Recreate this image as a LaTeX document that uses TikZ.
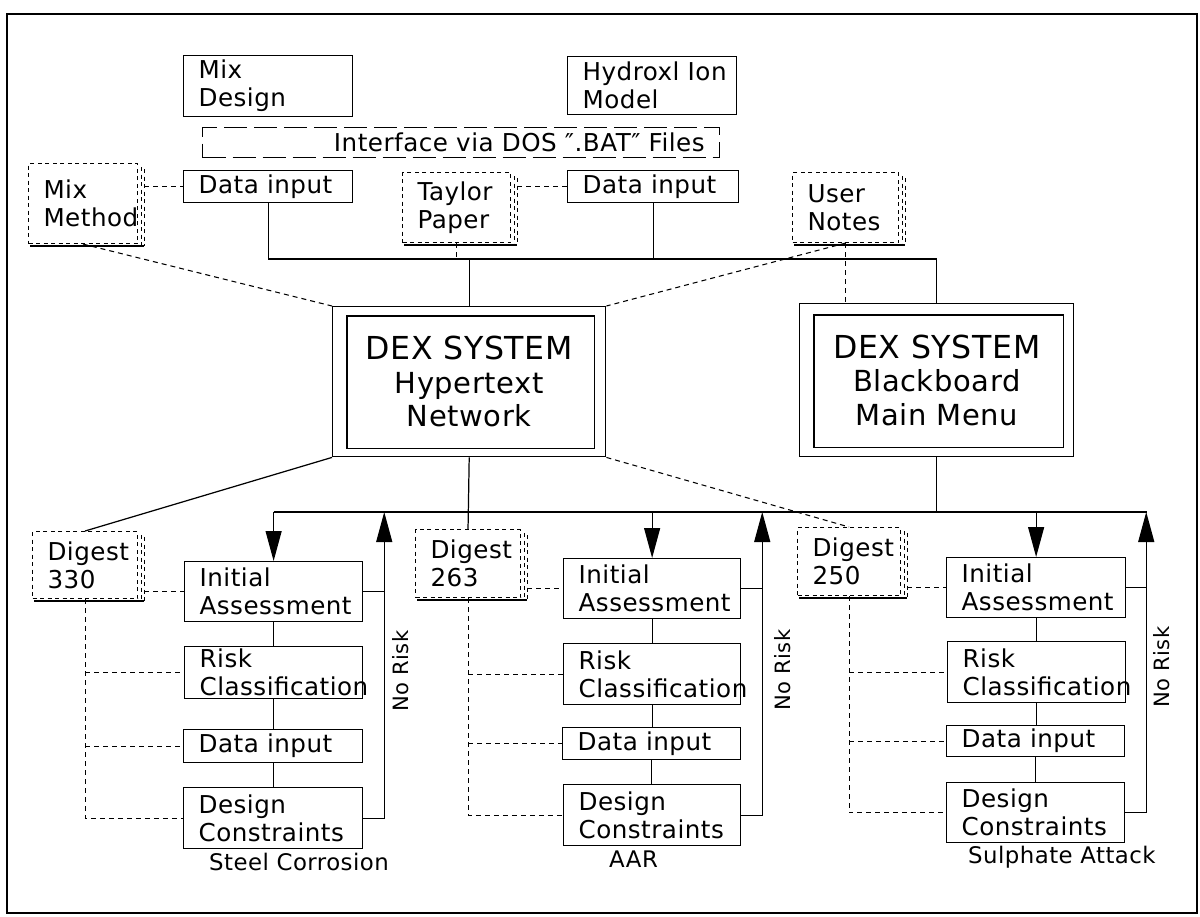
\documentclass[tikz,border=0pt]{standalone}
\usepackage{fontspec}
\setmainfont{DejaVu Sans}[LetterSpace=2]
\usetikzlibrary{arrows.meta,decorations.pathmorphing}
\hyphenpenalty=10000

\tikzset{
  box/.style 2 args={draw, line width=0.7pt, anchor=north west, align=left,
    inner xsep=3mm, inner ysep=0pt, text width=#1, minimum height=#2,
    font=\fontsize{14}{16}\selectfont},
  bigbox/.style={draw, line width=0.8pt, anchor=north west, align=center,
    inner sep=0pt, font=\fontsize{16.5}{19}\selectfont},
  notebox/.style={dash pattern=on 0.8mm off 0.7mm, line width=0.6pt},
  link/.style={dash pattern=on 1mm off 0.8mm, line width=0.6pt},
  wire/.style={line width=0.7pt},
  flowarrow/.style={wire, -{Triangle[width=3.2mm,length=6mm]}},
  caption/.style={anchor=base west, font=\fontsize{13}{15}\selectfont},
  riskmark/.style={rotate=90, font=\fontsize{12}{14}\selectfont},
}
\newcommand\dexhead{{\fontsize{18}{19}\selectfont DEX SYSTEM}}

\begin{document}
\begin{tikzpicture}[x=0.2mm, y=-0.2mm]
			%%%%% FRAME %%%%%
			\useasboundingbox (0,0) rectangle (1200,916);
			\draw[line width=1.2pt] (7,14) rectangle (1197,913);
			
			%%%%% MODELS AND DATA INPUT %%%%%
			\node[box={27.8mm}{12.2mm}] (mixdesign) at (183,55) {Mix\\Design};
			\node[box={27.8mm}{11.6mm}] (hydroxl) at (567,56) {Hydroxl~Ion\\Model};
			\node[box={97.4mm}{6mm}, align=right, dash pattern=on 4.6mm off 1.4mm] (iface) at (202,127) {Interface via DOS ″.BAT″ Files};
			\node[box={27.8mm}{6.4mm}] (datain1) at (183,170) {Data~input};
			\node[box={28.2mm}{6.4mm}] (datain2) at (567,170) {Data~input};
			
			\node[box={15.8mm}{16mm}, notebox] (mixmethod) at (28,163) {Mix\\Method};
			\node[box={15.6mm}{14mm}, notebox] (taylor) at (402,172) {Taylor\\Paper};
			\node[box={15.2mm}{14mm}, notebox] (usernotes) at (792,172) {User\\Notes};
			
			%%%%% DEX SYSTEM %%%%%
			\node[bigbox, minimum width=54.6mm, minimum height=30mm] (hyper) at (332,306) {\dexhead\\Hypertext\\Network};
			\draw[wire] ([shift={(15,10)}]hyper.north west) rectangle ([shift={(-12,-9)}]hyper.south east);
			\node[bigbox, minimum width=54.8mm, minimum height=30.6mm] (board) at (799,303) {\dexhead\\Blackboard\\Main Menu};
			\draw[wire] ([shift={(15,12)}]board.north west) rectangle ([shift={(-11,-10)}]board.south east);
			
			%%%%% DIGESTS %%%%%
			\node[box={15mm}{13.4mm}, notebox] (dig330) at (32,531) {Digest\\330};
			\node[box={15mm}{13.6mm}, notebox] (dig263) at (415,529) {Digest\\263};
			\node[box={14.6mm}{13.6mm}, notebox] (dig250) at (797,527) {Digest\\250};
			
			%%%%% STEEL CORROSION %%%%%
			\node[box={29.6mm}{12mm}] (ia1) at (184,561) {Initial\\Assessment};
			\node[box={29.6mm}{10.4mm}] (rc1) at (184,646) {Risk\\Classification};
			\node[box={29.8mm}{6.6mm}] (di1) at (183,729) {Data~input};
			\node[box={29.8mm}{12.2mm}] (dc1) at (183,787) {Design\\Constraints};
			\node[caption] (steel) at (203,870) {Steel Corrosion};
			\node[riskmark] (norisk1) at (401,671) {No Risk};
			
			%%%%% AAR %%%%%
			\node[box={29.4mm}{12mm}] (ia2) at (563,558) {Initial\\Assessment};
			\node[box={29.4mm}{12.2mm}] (rc2) at (563,643) {Risk\\Classification};
			\node[box={29.6mm}{6.4mm}] (di2) at (562,727) {Data~input};
			\node[box={29.4mm}{12.2mm}] (dc2) at (563,784) {Design\\Constraints};
			\node[caption] (aar) at (603,867) {AAR};
			\node[riskmark] (norisk2) at (783,670) {No Risk};
			
			%%%%% SULPHATE ATTACK %%%%%
			\node[box={29.8mm}{12mm}] (ia3) at (946,557) {Initial\\Assessment};
			\node[box={29.6mm}{12.2mm}] (rc3) at (947,641) {Risk\\Classification};
			\node[box={29.6mm}{6.2mm}] (di3) at (946,725) {Data~input};
			\node[box={29.6mm}{12mm}] (dc3) at (946,782) {Design\\Constraints};
			\node[caption] (sulphate) at (962,863) {Sulphate Attack};
			\node[riskmark] (norisk3) at (1162,667) {No Risk};
			
			% shadows of the note cards
			\foreach \n in {mixmethod, taylor, usernotes, dig330, dig263, dig250} {
				\draw[notebox] ([shift={(3,4)}]\n.north east) -- ([shift={(3,2)}]\n.south east);
				\draw[notebox] ([shift={(6,6)}]\n.north east) -- ([shift={(6,2)}]\n.south east);
				\draw[line width=1.3pt] ([shift={(2,2)}]\n.south west) -- ([shift={(6,2)}]\n.south east);
			}
			
			%%%%% CONNECTIONS %%%%%
			\coordinate (topbus) at (0,259);
			\coordinate (lowbus) at (0,512);
			
			\draw[link] ([xshift=1.2mm]mixmethod.east |- datain1.west) -- (datain1.west);
			\draw[link] ([xshift=1.2mm]taylor.east |- datain2.west) -- (datain2.west);
			\draw[wire] (datain1.south) |- (board.north |- topbus) -- (board.north);
			\draw[wire] (datain2.south) -- (datain2.south |- topbus);
			\draw[wire] (hyper.north) -- (hyper.north |- topbus);
			\draw[link] (taylor.south) -- (taylor.south |- topbus);
			\draw[link] (usernotes.south) -- (usernotes.south |- board.north);
			\draw[link] (usernotes.south) -- (hyper.north east);
			\draw[link] (mixmethod.south) -- (hyper.north west);
			
			\draw[wire] (hyper.south west) -- (dig330.north);
			\draw[wire] (hyper.south) -- (dig263.north);
			\draw[link] (hyper.south east) -- (dig250.north);
			\draw[wire] (board.south) -- (board.south |- lowbus);
			\draw[wire] (ia1.north |- lowbus) -- ([xshift=4.2mm]ia3.east |- lowbus);
			
			\foreach \col/\dig in {1/dig330, 2/dig263, 3/dig250} {
				\draw[flowarrow] (ia\col.north |- lowbus) -- (ia\col.north);
				\draw[wire] (ia\col.east) -- ++(4.2mm,0);
				\draw[flowarrow] (dc\col.east) -| ([xshift=4.2mm]dc\col.east |- lowbus);
				\draw[wire] (ia\col.south) -- (ia\col.south |- rc\col.north);
				\draw[wire] (rc\col.south) -- (rc\col.south |- di\col.north);
				\draw[wire] (di\col.south) -- (di\col.south |- dc\col.north);
				\draw[link] ([xshift=1.2mm]\dig.east |- ia\col.west) -- (ia\col.west);
				\draw[link] (\dig.south) |- (dc\col.west);
				\draw[link] (\dig.south |- rc\col.west) -- (rc\col.west);
				\draw[link] (\dig.south |- di\col.west) -- (di\col.west);
			}
\end{tikzpicture}
\end{document}
